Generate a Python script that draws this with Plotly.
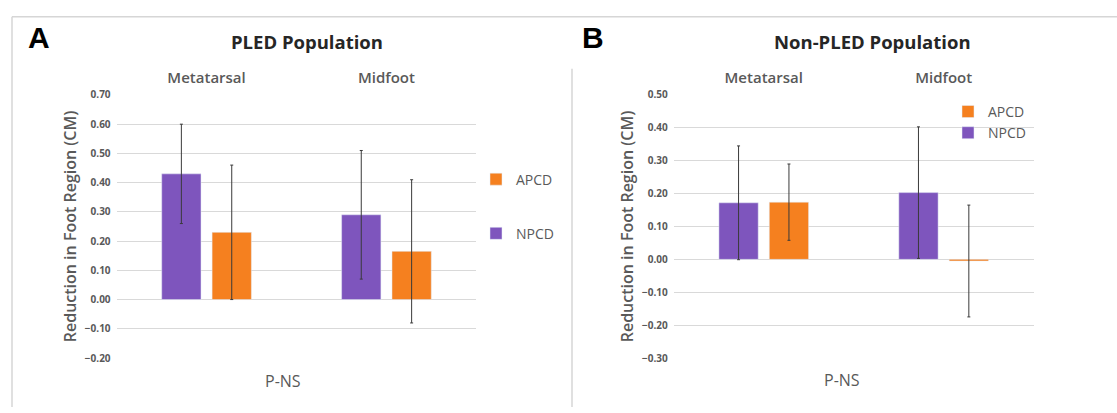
import plotly.graph_objects as go

W, H = 1117, 413

categories = ["Metatarsal", "Midfoot"]
series = ["NPCD", "APCD"]

# Panel A: PLED Population
a_npcd = [0.43, 0.29]
a_npcd_err = [0.17, 0.22]
a_apcd = [0.23, 0.165]
a_apcd_err = [0.23, 0.245]

# Panel B: Non-PLED Population
b_npcd = [0.172, 0.203]
b_npcd_err = [0.173, 0.20]
b_apcd = [0.174, -0.005]
b_apcd_err = [0.116, 0.17]

a_ticks = [-0.2, -0.1, 0.0, 0.1, 0.2, 0.3, 0.4, 0.5, 0.6, 0.7]
b_ticks = [-0.3, -0.2, -0.1, 0.0, 0.1, 0.2, 0.3, 0.4, 0.5]

PURPLE = "#7e55bd"
ORANGE = "#f5801f"
GREY = "#595959"
FONT = "Open Sans"


def px(x):
    return x / W


def py(y):
    return 1 - y / H


fig = go.Figure()

err_style = dict(type="data", color="#3a3a3a", thickness=1, width=1.5)

fig.add_trace(go.Bar(x=categories, y=a_npcd, name="NPCD", marker_color=PURPLE,
                     error_y=dict(array=a_npcd_err, **err_style),
                     xaxis="x", yaxis="y", legend="legend", legendgroup="a_n", legendrank=2))
fig.add_trace(go.Bar(x=categories, y=a_apcd, name="APCD", marker_color=ORANGE,
                     error_y=dict(array=a_apcd_err, **err_style),
                     xaxis="x", yaxis="y", legend="legend", legendgroup="a_a", legendrank=1))
fig.add_trace(go.Bar(x=categories, y=b_npcd, name="NPCD", marker_color=PURPLE,
                     error_y=dict(array=b_npcd_err, **err_style),
                     xaxis="x2", yaxis="y2", legend="legend2", legendgroup="b_n", legendrank=2))
fig.add_trace(go.Bar(x=categories, y=b_apcd, name="APCD", marker_color=ORANGE,
                     error_y=dict(array=b_apcd_err, **err_style),
                     xaxis="x2", yaxis="y2", legend="legend2", legendgroup="b_a", legendrank=1))

ydom = [py(362.3), py(90)]

xcommon = dict(side="top", showgrid=False, showline=False, ticks="",
               tickfont=dict(family=FONT, size=15, color=GREY, weight=600),
               ticklabelstandoff=8)
ycommon = dict(showgrid=True, gridcolor="#d9d9d9", gridwidth=1, zeroline=False,
               showline=False, ticks="", tickformat=".2f",
               tickfont=dict(family=FONT, size=10, color=GREY, weight=700),
               ticklabelstandoff=5,
               title=dict(text="Reduction in Foot Region (CM)",
                          font=dict(family=FONT, size=16, color=GREY, weight=600),
                          standoff=4))

fig.update_layout(
    width=W, height=H,
    margin=dict(l=0, r=0, t=0, b=0),
    paper_bgcolor="white", plot_bgcolor="white",
    barmode="group", bargap=0.44, bargroupgap=0.22,
    xaxis=dict(domain=[px(116.6), px(476.4)], anchor="y", **xcommon),
    yaxis=dict(domain=ydom, anchor="x", range=[-0.2, 0.7], tickvals=a_ticks, **ycommon),
    xaxis2=dict(domain=[px(673.8), px(1033.6)], anchor="y2", **xcommon),
    yaxis2=dict(domain=ydom, anchor="x2", range=[-0.3, 0.5], tickvals=b_ticks, **ycommon),
    legend=dict(x=px(476), y=py(161), xanchor="left", yanchor="top",
                traceorder="grouped", tracegroupgap=33,
                font=dict(family=FONT, size=14, color=GREY),
                bgcolor="rgba(0,0,0,0)"),
    legend2=dict(x=px(948), y=py(91), xanchor="left", yanchor="top",
                 traceorder="grouped", tracegroupgap=0,
                 font=dict(family=FONT, size=14, color=GREY),
                 bgcolor="rgba(0,0,0,0)"),
)

annotations = [
    dict(text="<b>A</b>", x=px(39), y=py(31), font=dict(family="Liberation Sans", size=30, color="black")),
    dict(text="<b>B</b>", x=px(593), y=py(31), font=dict(family="Liberation Sans", size=30, color="black")),
    dict(text="<b>PLED Population</b>", x=px(307), y=py(35), font=dict(family=FONT, size=18.5, color="#262626")),
    dict(text="<b>Non-PLED Population</b>", x=px(872), y=py(35), font=dict(family=FONT, size=18.5, color="#262626")),
    dict(text="P-NS", x=px(283), y=py(386), font=dict(family=FONT, size=16, color=GREY)),
    dict(text="P-NS", x=px(842), y=py(385), font=dict(family=FONT, size=16, color=GREY)),
]
for a in annotations:
    a.update(xref="paper", yref="paper", xanchor="center", yanchor="middle", showarrow=False)
fig.update_layout(annotations=annotations)

line = dict(color="#d6d6d6", width=1.5)
fig.update_layout(shapes=[
    dict(type="line", xref="paper", yref="paper", x0=px(12), x1=1, y0=py(9), y1=py(9), line=line),
    dict(type="line", xref="paper", yref="paper", x0=px(12), x1=px(12), y0=py(9), y1=0, line=line),
    dict(type="line", xref="paper", yref="paper", x0=px(572), x1=px(572), y0=py(63), y1=0, line=line),
])

fig.write_html("out.html", config={"displayModeBar": False},
               post_script="document.body.style.margin='0px';")
